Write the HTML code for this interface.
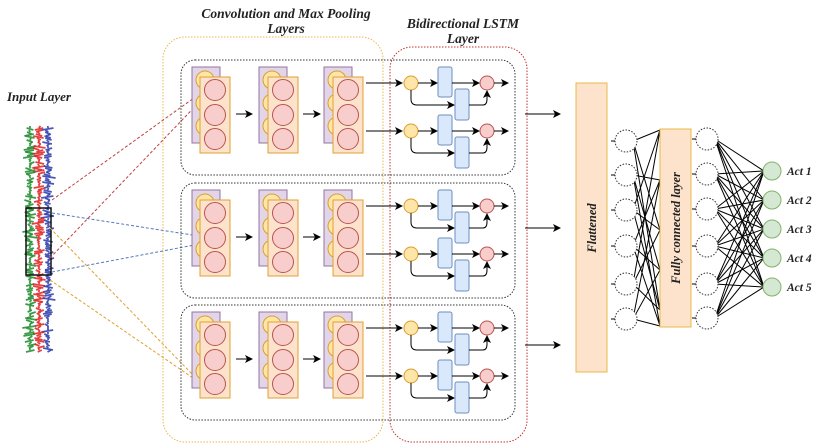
<!DOCTYPE html>
<html><head><meta charset="utf-8"><style>
body{margin:0;background:#fff}
svg{display:block}
text{font-family:"Liberation Serif",serif;font-style:italic;font-weight:bold;fill:#222}
</style></head><body>
<svg id="s" width="820" height="448" viewBox="0 0 820 448" xmlns="http://www.w3.org/2000/svg">
<defs>
<marker id="ar" markerWidth="8" markerHeight="8" refX="7" refY="4" orient="auto" markerUnits="userSpaceOnUse"><path d="M0,0 L8,4 L0,8 L2,4z" fill="#000"/></marker>
</defs>
<text x="286" y="18" font-size="13.5" text-anchor="middle">Convolution and Max Pooling</text>
<text x="286" y="33" font-size="13.5" text-anchor="middle">Layers</text>
<text x="463" y="28" font-size="13.5" text-anchor="middle">Bidirectional LSTM</text>
<text x="463" y="43" font-size="13.5" text-anchor="middle">Layer</text>
<text x="7" y="101" font-size="13">Input Layer</text>
<rect x="163" y="37" width="220" height="405" rx="22" fill="none" stroke="#e8b84a" stroke-dasharray="1.5,1.5"/>
<rect x="390" y="47" width="137" height="395" rx="22" fill="none" stroke="#c83232" stroke-dasharray="1.5,1.5"/>
<g id="g"></g>
<rect x="576" y="83" width="31" height="289" fill="#fde3cc" stroke="#e8b84a"/>
<text transform="translate(596,228) rotate(-90)" font-size="12.5" text-anchor="middle">Flattened</text>
<rect x="660" y="129" width="31" height="198" fill="#fde3cc" stroke="#e8b84a"/>
<text transform="translate(680,228) rotate(-90)" font-size="12.5" text-anchor="middle">Fully connected layer</text>
<text x="787" y="175" font-size="11.5">Act 1</text>
<text x="787" y="204" font-size="11.5">Act 2</text>
<text x="787" y="233" font-size="11.5">Act 3</text>
<text x="787" y="262" font-size="11.5">Act 4</text>
<text x="787" y="291" font-size="11.5">Act 5</text>
</svg>
<script>
var g=document.getElementById('g'),h='';
function L(x1,y1,x2,y2,e){h+='<line x1="'+x1+'" y1="'+y1+'" x2="'+x2+'" y2="'+y2+'" stroke="#000" stroke-width="1" '+(e||'')+'/>';}
var cols=['#1a8a2a','#e02020','#2a3aaa'];
for(var y=126;y<352;y+=2){
 for(var c=0;c<3;c++){var b=30+c*9;var w=Math.random()*12-6;
 h+='<line x1="'+(b+w)+'" y1="'+y+'" x2="'+(b-w*Math.random()*1.5)+'" y2="'+(y+2)+'" stroke="'+cols[c]+'" stroke-width="1.8" opacity="0.85"/>';}
}
h+='<rect x="26" y="208" width="25" height="67" fill="none" stroke="#111" stroke-width="1.5"/>';
function D(x1,y1,x2,y2,c){h+='<line x1="'+x1+'" y1="'+y1+'" x2="'+x2+'" y2="'+y2+'" stroke="'+c+'" stroke-dasharray="3,2"/>';}
D(52,200,205,90,'#c04040');D(50,258,207,94,'#c04040');
D(52,213,205,237,'#5577bb');D(52,272,210,242,'#5577bb');
D(50,228,193,375,'#e0a030');D(50,280,193,378,'#e0a030');
var offs=[0,123,245];
offs.forEach(function(o){
 h+='<rect x="181" y="'+(60+o)+'" width="334" height="115" rx="14" fill="none" stroke="#333" stroke-dasharray="1.5,1.5"/>';
 [[192,200],[259,268],[324,333]].forEach(function(p){
  h+='<rect x="'+p[0]+'" y="'+(67+o)+'" width="28" height="76" fill="#e1d5e7" stroke="#9673a6"/>';
  [80,103,126].forEach(function(cy){h+='<circle cx="'+(p[0]+13)+'" cy="'+(cy+o)+'" r="9" fill="#ffe6a8" stroke="#d6a030"/>';});
  h+='<rect x="'+p[1]+'" y="'+(77+o)+'" width="30" height="76" fill="#fde3cc" stroke="#e0a030"/>';
  [90,115,139].forEach(function(cy){h+='<circle cx="'+(p[1]+15)+'" cy="'+(cy+o)+'" r="10.5" fill="#f8cecc" stroke="#b85450"/>';});
 });
 L(236,114+o,252,114+o,'marker-end="url(#ar)"');L(303,114+o,320,114+o,'marker-end="url(#ar)"');
 [83,131].forEach(function(y){y+=o;
  L(366,y,402,y,'marker-end="url(#ar)"');
  h+='<circle cx="411" cy="'+y+'" r="7" fill="#ffe6a8" stroke="#d6a030"/>';
  L(418,y,437,y,'marker-end="url(#ar)"');
  h+='<path d="M411,'+(y+7)+' V'+(y+16)+' Q411,'+(y+22)+' 417,'+(y+22)+' H454" fill="none" stroke="#000" marker-end="url(#ar)"/>';
  h+='<rect x="438" y="'+(y-16)+'" width="14" height="30" rx="2" fill="#dae8fc" stroke="#6c8ebf"/>';
  L(452,y,479,y,'marker-end="url(#ar)"');
  h+='<rect x="455" y="'+(y+6)+'" width="14" height="31" rx="2" fill="#dae8fc" stroke="#6c8ebf"/>';
  h+='<path d="M469,'+(y+22)+' H483 Q487,'+(y+22)+' 487,'+(y+16)+' V'+(y+8)+'" fill="none" stroke="#000" marker-end="url(#ar)"/>';
  h+='<circle cx="487" cy="'+y+'" r="7" fill="#f8cecc" stroke="#b85450"/>';
  L(494,y,508,y,'marker-end="url(#ar)"');
 });
});
[114,228,345].forEach(function(y){L(525,y,560,y,'marker-end="url(#ar)"');});
var c1=[141,175,210,246,284,319],c2=[139,174,209,246,284,318],gr=[171,200,229,258,287];
var fin=[130,180,230,270,310,326];
c1.forEach(function(y,i){
 [0,1,2].forEach(function(k){var j=(i+k*2)%6;L(633,y,660,fin[j]);});
});
c2.forEach(function(y){gr.forEach(function(gy){L(715,y,764,gy);});});
c1.forEach(function(y){h+='<circle cx="626" cy="'+y+'" r="11" fill="#fff" stroke="#333" stroke-dasharray="1.5,1.5"/>';L(611,y,615,y);});
c2.forEach(function(y){h+='<circle cx="707" cy="'+y+'" r="11" fill="#fff" stroke="#333" stroke-dasharray="1.5,1.5"/>';L(692,y,696,y);});
gr.forEach(function(y){h+='<circle cx="772" cy="'+y+'" r="9" fill="#d5e8d4" stroke="#82b366"/>';});
g.innerHTML=h;
</script>
</body></html>
